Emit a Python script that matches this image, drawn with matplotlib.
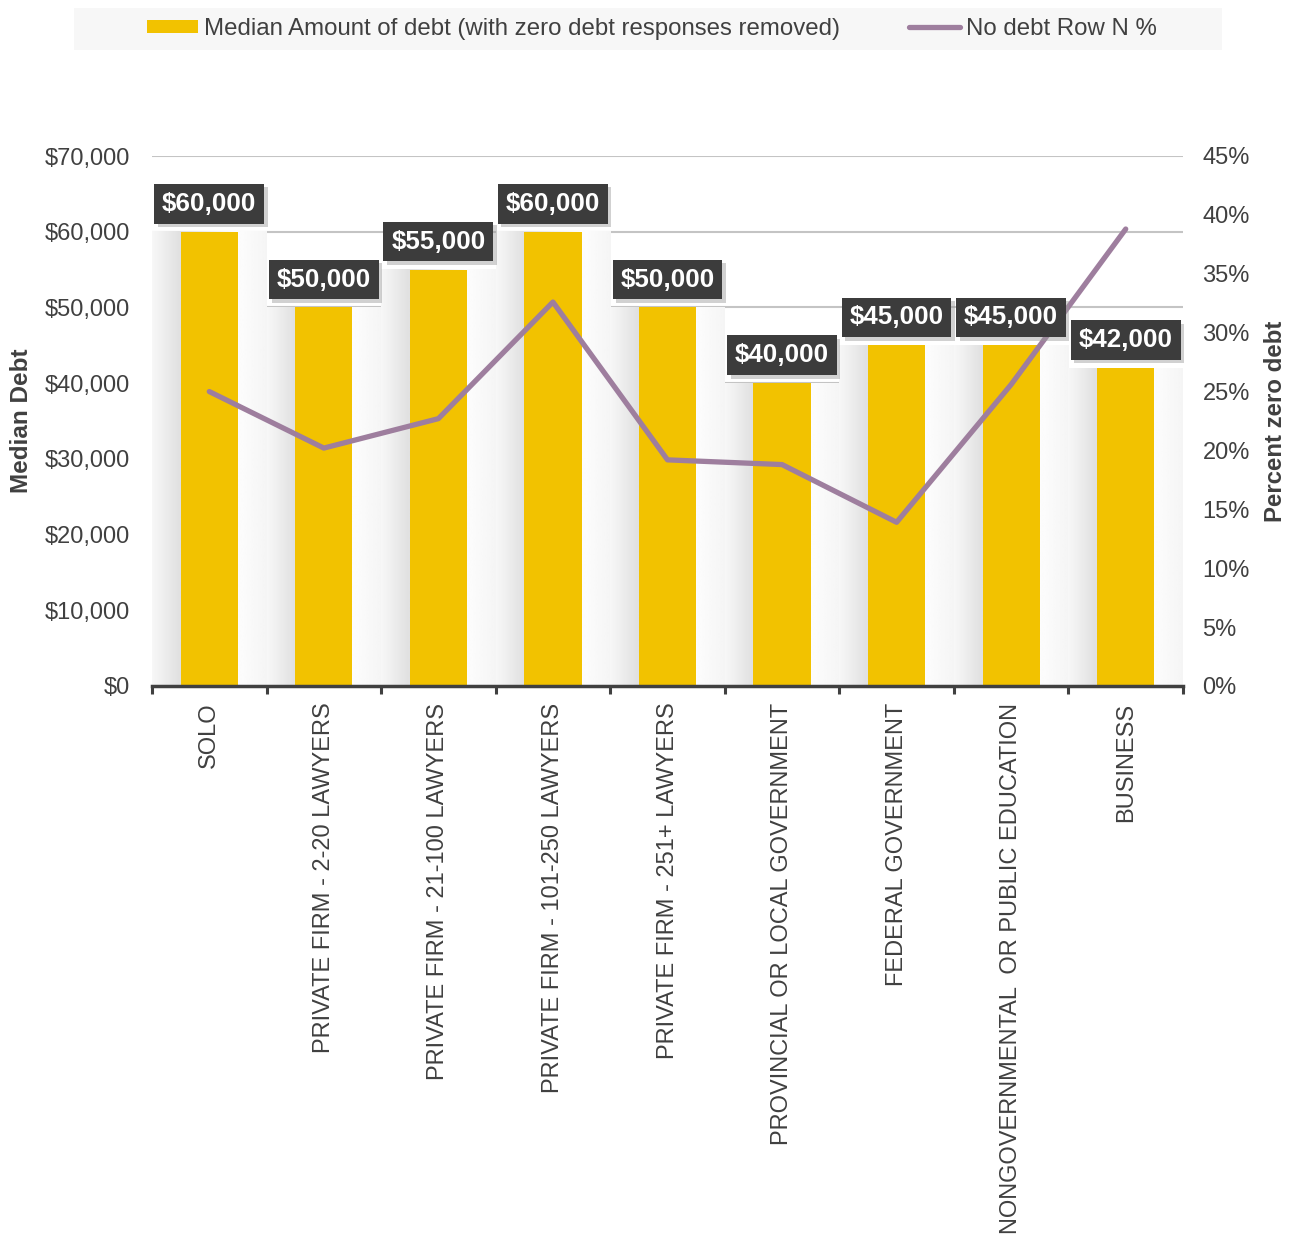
import matplotlib
matplotlib.use("Agg")
import matplotlib.pyplot as plt
import matplotlib.patheffects as pe
from matplotlib.patches import Rectangle, Patch
from matplotlib.lines import Line2D
from matplotlib.ticker import FuncFormatter, MultipleLocator, FixedLocator
import numpy as np

plt.rcParams['font.family'] = ['Liberation Sans', 'DejaVu Sans']

categories = ["SOLO", "PRIVATE FIRM - 2-20 LAWYERS", "PRIVATE FIRM - 21-100 LAWYERS",
              "PRIVATE FIRM - 101-250 LAWYERS", "PRIVATE FIRM - 251+ LAWYERS",
              "PROVINCIAL OR LOCAL GOVERNMENT", "FEDERAL GOVERNMENT",
              "NONGOVERNMENTAL  OR PUBLIC EDUCATION", "BUSINESS"]
median_debt = [60000, 50000, 55000, 60000, 50000, 40000, 45000, 45000, 42000]
no_debt_pct = [25.0, 20.2, 22.7, 32.6, 19.2, 18.8, 13.9, 25.6, 38.8]

bar_label = "Median Amount of debt (with zero debt responses removed)"
line_label = "No debt Row N %"

TXT = '#404040'
BAR = '#F2C200'
LINE = '#9E7E9E'

W, H = 1295, 1241
fig = plt.figure(figsize=(W/100, H/100), dpi=100)
ax = fig.add_axes([152/W, 1-686/H, (1183-152)/W, (686-156)/H])
ax2 = ax.twinx()

x = np.arange(len(categories))

# shaded bands behind bars
u = np.linspace(0, 1, 200)
grad = np.interp(u, [0, 0.24, 0.26, 0.74, 0.8, 1.0], [0.97, 0.88, 0.88, 0.99, 0.985, 0.96])
for i, v in enumerate(median_debt):
    ax.imshow(grad[np.newaxis, :], cmap='gray', vmin=0, vmax=1, aspect='auto',
              extent=[i-0.5, i+0.5, 0, v], zorder=1, interpolation='bilinear')

ax.bar(x, median_debt, width=0.5, color=BAR, zorder=3)

ax.set_xlim(-0.5, len(categories)-0.5)
ax.set_ylim(0, 70000)
ax.yaxis.set_major_locator(MultipleLocator(10000))
ax.yaxis.set_major_formatter(FuncFormatter(lambda v, p: f"${v:,.0f}"))
ax.grid(axis='y', color='#c4c4c4', linewidth=1.5, zorder=0)
ax.set_axisbelow(True)
ax.tick_params(axis='y', length=0, pad=16, labelsize=17, labelcolor=TXT)
ax.set_xticks(x)
ax.set_xticklabels(categories, rotation=90, fontsize=17, color=TXT)
ax.xaxis.set_minor_locator(FixedLocator(np.arange(-0.5, len(categories), 1.0)))
ax.tick_params(axis='x', which='major', length=0, pad=12)
ax.tick_params(axis='x', which='minor', length=6, width=2.2, color=TXT, direction='out')

for s in ['top', 'left', 'right']:
    ax.spines[s].set_visible(False)
    ax2.spines[s].set_visible(False)
ax.spines['bottom'].set_color(TXT)
ax.spines['bottom'].set_linewidth(2.5)
ax.spines['bottom'].set_zorder(5)
ax2.spines['bottom'].set_visible(False)

ax.set_ylabel("Median Debt", fontsize=17.5, fontweight='bold', color=TXT, labelpad=8)

ax2.plot(x, no_debt_pct, color=LINE, linewidth=3.8, solid_capstyle='round', zorder=3)
ax2.set_ylim(0, 45)
ax2.yaxis.set_major_locator(MultipleLocator(5))
ax2.yaxis.set_major_formatter(FuncFormatter(lambda v, p: f"{v:.0f}%"))
ax2.tick_params(axis='y', length=0, pad=14, labelsize=17, labelcolor=TXT)
ax2.set_ylabel("Percent zero debt", fontsize=17.3, fontweight='bold', color=TXT, labelpad=10)

# data labels
for i, v in enumerate(median_debt):
    t = ax2.text(i, v, f"${v:,.0f}", transform=ax.transData, ha='center', va='bottom',
                 fontsize=18.7, fontweight='bold', color='white', zorder=10,
                 bbox=dict(boxstyle='square,pad=0.3', facecolor='#3c3c3c', edgecolor='none'))
    t.set_position((i, v + 2100))
    t.get_bbox_patch().set_path_effects([
        pe.SimplePatchShadow(offset=(2.5, -2.5), shadow_rgbFace='#999999', alpha=0.45),
        pe.Normal()])

# legend band
fig.patches.append(Rectangle((74/W, 1-50/H), (1222-74)/W, 42/H, transform=fig.transFigure,
                             facecolor='#f7f7f7', edgecolor='none', zorder=0))
handles = [Patch(facecolor=BAR, edgecolor='none'),
           Line2D([0], [0], color=LINE, linewidth=3.8, solid_capstyle='round')]
leg = fig.legend(handles, [bar_label, line_label], loc='center',
                 bbox_to_anchor=(652/W, 1-29/H), ncol=2, frameon=False,
                 fontsize=17.3, handlelength=2.1, handleheight=0.5, handletextpad=0.25,
                 columnspacing=2.9, labelcolor=TXT)

fig.savefig("out.png", dpi=100)
